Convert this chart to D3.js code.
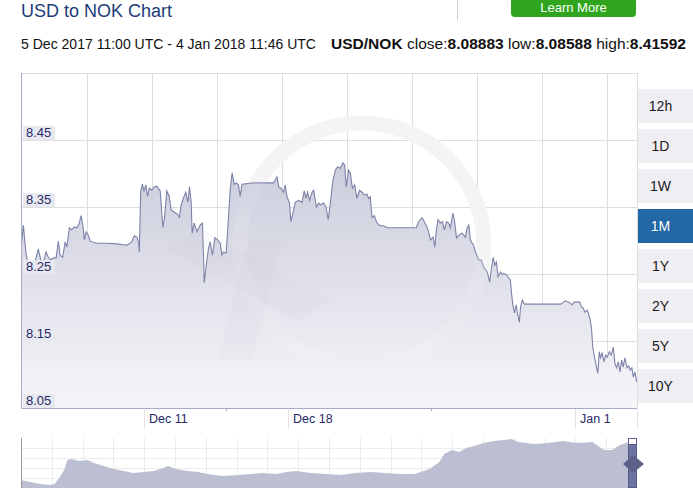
<!DOCTYPE html>
<html><head><meta charset="utf-8">
<script src="https://cdn.jsdelivr.net/npm/d3@7"></script>
<style>
html,body{margin:0;padding:0;background:#fff;}
svg{display:block;font-family:"Liberation Sans",Arial,sans-serif;}
</style></head>
<body>
<svg id="c" width="693" height="495"></svg>
<script>
// ---------- DATA ----------
const startDate = Date.UTC(2017, 11, 5, 0, 0); // Dec 5 2017 00:00 UTC
const spanDays = 30.04;
// day offsets from startDate
const days = [0.00,0.09,0.22,0.28,0.42,0.66,0.82,0.94,1.07,1.20,1.31,1.43,1.55,1.69,1.80,1.88,2.01,2.13,2.21,2.34,2.45,2.56,2.70,2.81,2.91,2.99,3.07,3.15,3.26,3.35,3.67,4.16,4.65,5.14,5.38,5.50,5.63,5.71,5.75,5.82,5.90,5.98,6.07,6.15,6.24,6.36,6.47,6.60,6.68,6.77,6.90,6.98,7.09,7.21,7.30,7.42,7.58,7.71,7.79,7.90,8.02,8.12,8.20,8.28,8.33,8.43,8.56,8.72,8.83,8.88,8.92,9.00,9.13,9.21,9.32,9.44,9.57,9.70,9.78,9.86,9.99,10.10,10.19,10.28,10.38,10.48,10.59,10.67,10.76,11.32,11.98,12.30,12.38,12.47,12.55,12.66,12.79,12.87,12.96,13.08,13.15,13.25,13.36,13.52,13.69,13.80,13.88,13.96,14.06,14.18,14.26,14.39,14.50,14.58,14.74,14.86,14.97,15.10,15.20,15.32,15.43,15.56,15.69,15.77,15.85,15.96,16.05,16.15,16.26,16.37,16.50,16.62,16.73,16.86,16.94,17.02,17.11,17.22,17.35,17.51,17.67,17.84,18.49,19.27,19.38,19.55,19.66,19.79,19.87,19.96,20.09,20.17,20.25,20.33,20.44,20.54,20.64,20.74,20.85,20.93,21.02,21.06,21.14,21.23,21.34,21.50,21.67,21.75,21.83,21.91,21.99,22.07,22.15,22.32,22.43,22.56,22.73,22.85,22.94,23.02,23.10,23.18,23.26,23.38,23.46,23.54,23.67,23.78,23.86,23.91,23.98,24.06,24.14,24.22,24.30,24.35,24.44,24.55,24.76,25.33,25.98,26.31,26.55,26.71,26.88,26.96,27.12,27.25,27.33,27.42,27.49,27.61,27.74,27.82,27.88,27.97,28.07,28.13,28.20,28.26,28.34,28.42,28.51,28.59,28.69,28.78,28.88,28.96,29.04,29.13,29.21,29.29,29.37,29.45,29.55,29.63,29.71,29.79,29.86,29.94,30.02,30.04];
const values = [8.296,8.323,8.281,8.271,8.268,8.268,8.287,8.271,8.268,8.283,8.275,8.271,8.274,8.274,8.299,8.278,8.275,8.298,8.290,8.319,8.316,8.320,8.319,8.325,8.337,8.323,8.301,8.313,8.308,8.299,8.296,8.296,8.295,8.293,8.298,8.307,8.305,8.298,8.283,8.375,8.384,8.374,8.383,8.366,8.378,8.375,8.380,8.381,8.378,8.374,8.319,8.334,8.374,8.366,8.346,8.343,8.340,8.335,8.353,8.363,8.372,8.357,8.380,8.357,8.311,8.326,8.313,8.323,8.326,8.278,8.237,8.259,8.289,8.298,8.278,8.304,8.301,8.296,8.278,8.283,8.281,8.334,8.378,8.401,8.384,8.386,8.383,8.366,8.384,8.386,8.386,8.386,8.390,8.395,8.380,8.378,8.372,8.383,8.365,8.356,8.328,8.341,8.357,8.360,8.357,8.374,8.363,8.372,8.360,8.372,8.375,8.350,8.356,8.353,8.356,8.350,8.331,8.363,8.390,8.405,8.410,8.408,8.416,8.413,8.380,8.405,8.401,8.378,8.383,8.363,8.375,8.372,8.368,8.369,8.363,8.365,8.334,8.337,8.326,8.322,8.322,8.319,8.319,8.319,8.328,8.334,8.328,8.320,8.313,8.301,8.305,8.290,8.316,8.331,8.326,8.328,8.316,8.328,8.326,8.319,8.335,8.341,8.328,8.304,8.308,8.311,8.305,8.319,8.323,8.301,8.296,8.293,8.283,8.271,8.271,8.260,8.253,8.238,8.259,8.275,8.263,8.268,8.246,8.253,8.249,8.251,8.249,8.244,8.241,8.223,8.204,8.192,8.204,8.189,8.178,8.199,8.211,8.205,8.205,8.205,8.205,8.205,8.210,8.208,8.204,8.208,8.208,8.208,8.201,8.199,8.193,8.196,8.184,8.169,8.141,8.125,8.110,8.102,8.134,8.125,8.132,8.119,8.129,8.126,8.134,8.129,8.141,8.117,8.110,8.119,8.104,8.122,8.111,8.125,8.110,8.113,8.107,8.110,8.096,8.104,8.090,8.089];

const yTicks = [8.05, 8.15, 8.25, 8.35, 8.45];
const yMax = 8.55;
const xTickDays = [6, 13, 27];
const xTickLabels = ["Dec 11", "Dec 18", "Jan 1"];
const xMinorDays = [10, 20];

// navigator (relative position %, relative level %)
const navT = [0,1.5,3.1,4.7,5.5,6.3,7.1,7.6,8.3,9.6,10.9,12.0,13.6,15.3,16.9,18.5,20.1,21.8,23.4,24.2,25.5,27.4,29.1,30.7,33.1,35.6,38.0,39.6,42.0,43.7,45.3,47.7,50.2,52.6,55.0,57.5,59.9,62.3,64.8,67.2,68.8,69.6,70.9,72.1,73.2,74.5,76.1,77.8,79.4,80.7,81.8,84.3,86.7,89.1,91.6,94.0,95.9,97.2,98.5,100];
const navV = [16,12,8,6,8,20,36,56,58,54,56,50,44,38,34,30,32,34,40,44,38,34,32,28,24,26,28,30,28,32,34,30,28,26,30,32,30,28,28,38,52,68,76,72,80,84,90,94,96,98,92,88,90,94,90,92,76,76,86,92];

const rangeButtons = ["12h","1D","1W","1M","1Y","2Y","5Y","10Y"];
const activeButton = "1M";

const header = "USD to NOK Chart";
const infoText = "5 Dec 2017 11:00 UTC - 4 Jan 2018 11:46 UTC";
const statParts = [
  {t:"USD/NOK", b:true},{t:" close:", b:false},{t:"8.08883", b:true},
  {t:" low:", b:false},{t:"8.08588", b:true},{t:" high:", b:false},{t:"8.41592", b:true}
];

// ---------- DRAW ----------
const svg = d3.select("#c");
const L = 21.5, R = 637, T = 73, B = 408;
const DAY = 86400000;
const x = d3.scaleUtc().domain([new Date(startDate), new Date(startDate + spanDays*DAY)]).range([L, R]);
const y = d3.scaleLinear().domain([8.05, yMax]).range([B, T]);
const data = days.map((d,i)=>({date:new Date(startDate + d*DAY), v:values[i]}));

// header
svg.append("text").attr("x",21).attr("y",17).attr("font-size",18).attr("fill","#1d3c78").text(header);
svg.append("line").attr("x1",457.5).attr("x2",457.5).attr("y1",0).attr("y2",20).attr("stroke","#d0d0d0");
svg.append("rect").attr("x",511).attr("y",-20).attr("width",125).attr("height",37).attr("rx",4).attr("fill","#2ea51c");
svg.append("text").attr("x",573.5).attr("y",12).attr("text-anchor","middle").attr("font-size",13).attr("fill","#fff").text("Learn More");

svg.append("text").attr("x",21).attr("y",49).attr("font-size",14).attr("fill","#111")
  .attr("textLength",295).attr("lengthAdjust","spacingAndGlyphs").text(infoText);
const stat = svg.append("text").attr("x",331).attr("y",49).attr("font-size",14).attr("fill","#111")
  .attr("textLength",355).attr("lengthAdjust","spacingAndGlyphs");
statParts.forEach(p=>stat.append("tspan").attr("font-weight",p.b?"bold":"normal").text(p.t));

// gradient
const defs = svg.append("defs");
const g = defs.append("linearGradient").attr("id","ag").attr("gradientUnits","userSpaceOnUse")
  .attr("x1",0).attr("x2",0).attr("y1",T+80).attr("y2",B);
g.append("stop").attr("offset",0).attr("stop-color","#c9cbdb");
g.append("stop").attr("offset",1).attr("stop-color","#f6f6f9");
defs.append("clipPath").attr("id","pc").append("rect").attr("x",L).attr("y",T).attr("width",R-L).attr("height",B-T);

// grid
const grid = svg.append("g");
const vGrid = d3.range(L+65, R, 65);
grid.selectAll(".vg").data(vGrid).join("line")
  .attr("x1",d=>Math.round(d)+0.5).attr("x2",d=>Math.round(d)+0.5).attr("y1",T).attr("y2",B)
  .attr("stroke","#dedede");
grid.selectAll(".hg").data(yTicks.concat([yMax])).join("line")
  .attr("x1",L).attr("x2",R).attr("y1",d=>Math.round(y(d))+0.5).attr("y2",d=>Math.round(y(d))+0.5)
  .attr("stroke","#dedede");
grid.append("line").attr("x1",R+0.5).attr("x2",R+0.5).attr("y1",T).attr("y2",B).attr("stroke","#dedede");

// watermark (faint)
const wm = svg.append("g").attr("clip-path","url(#pc)");
wm.append("circle").attr("cx",362).attr("cy",245).attr("r",122).attr("fill","none").attr("stroke","#f3f3f7").attr("stroke-width",15);

// area + line
const area = d3.area().x(d=>x(d.date)).y0(B).y1(d=>y(d.v));
const line = d3.line().x(d=>x(d.date)).y(d=>y(d.v));
const pg = svg.append("g").attr("clip-path","url(#pc)");
pg.append("path").datum(data).attr("d",area).attr("fill","url(#ag)");
const wm2 = svg.append("g").attr("clip-path","url(#pc)");
wm2.append("circle").attr("cx",362).attr("cy",245).attr("r",122).attr("fill","none").attr("stroke","#ffffff").attr("stroke-opacity",0.1).attr("stroke-width",15);
wm2.append("path").attr("d","M168,250 L200,228 L330,300 L298,322 Z").attr("fill","#b8bacb").attr("opacity",0.07);
wm2.append("path").attr("d","M218,360 L248,240 L282,240 L252,360 Z").attr("fill","#b8bacb").attr("opacity",0.07);
pg.append("path").datum(data).attr("d",line).attr("fill","none").attr("stroke","#7c82a8").attr("stroke-width",1.1);

// axes lines
svg.append("line").attr("x1",L).attr("x2",L).attr("y1",T).attr("y2",B).attr("stroke","#a8aacb").attr("stroke-width",1);
svg.append("line").attr("x1",L).attr("x2",R).attr("y1",B+0.5).attr("y2",B+0.5).attr("stroke","#a8aacb");

// y labels
const yl = svg.append("g");
yTicks.forEach(v=>{
  const yy = Math.round(y(v));
  yl.append("rect").attr("x",23).attr("y",yy-14).attr("width",32).attr("height",14).attr("fill","#e8e8f0");
  yl.append("text").attr("x",26).attr("y",yy-3).attr("font-size",13).attr("fill","#262a66").text(v.toFixed(2));
});

// x ticks
const xg = svg.append("g");
xTickDays.forEach((d,i)=>{
  const xx = Math.round(x(new Date(startDate + d*DAY)))+0.5;
  xg.append("line").attr("x1",xx).attr("x2",xx).attr("y1",B+1).attr("y2",B+20).attr("stroke","#e2e2e2");
  xg.append("text").attr("x",xx+4.5).attr("y",423).attr("font-size",12.5).attr("fill","#262a66").text(xTickLabels[i]);
});
xg.append("line").attr("x1",R+0.5).attr("x2",R+0.5).attr("y1",B+1).attr("y2",B+20).attr("stroke","#e2e2e2");
xMinorDays.forEach(d=>{
  const xx = Math.round(x(new Date(startDate + d*DAY)))+0.5;
  xg.append("line").attr("x1",xx).attr("x2",xx).attr("y1",B).attr("y2",B+3).attr("stroke","#a8aacb");
});

// range buttons
const bg = svg.append("g");
rangeButtons.forEach((b,i)=>{
  const by = 89 + i*40;
  const act = b===activeButton;
  bg.append("rect").attr("x",638).attr("y",by).attr("width",55).attr("height",34).attr("fill",act?"#2267a6":"#efeff3");
  bg.append("text").attr("x",660.5).attr("y",by+22).attr("text-anchor","middle").attr("font-size",14)
    .attr("fill",act?"#fff":"#1a1a1a").text(b);
});

// navigator
const NL = 21, NR = 629, NT = 438, NB = 488;
const nx = d3.scaleLinear().domain([0,100]).range([NL, NR]);
const ny = d3.scaleLinear().domain([0,100]).range([NB, NT]);
const ng = svg.append("g");
ng.selectAll(".nh").data(d3.range(NT+10, NB, 10)).join("line")
  .attr("x1",NL).attr("x2",637).attr("y1",d=>d+0.5).attr("y2",d=>d+0.5).attr("stroke","#ececec");
ng.selectAll(".nv").data(d3.range(NL+30.8, 637, 30.8)).join("line")
  .attr("x1",d=>Math.round(d)+0.5).attr("x2",d=>Math.round(d)+0.5).attr("y1",NT).attr("y2",NB).attr("stroke","#ececec");
const navData = navT.map((t,i)=>({t, v:navV[i]}));
ng.append("path").datum(navData)
  .attr("d", d3.area().x(d=>nx(d.t)).y0(NB).y1(d=>ny(d.v)))
  .attr("fill","#bcbfd2");
ng.append("line").attr("x1",NL+0.5).attr("x2",NL+0.5).attr("y1",NT).attr("y2",NB).attr("stroke","#9a9a9a");
// handle
ng.append("rect").attr("x",628.5).attr("y",438.5).attr("width",8).attr("height",49).attr("fill","#fff").attr("stroke","#5c6190");
ng.append("rect").attr("x",628.5).attr("y",444.5).attr("width",8).attr("height",43).attr("fill","#6d72a0").attr("stroke","#555a88");
ng.append("path").attr("d","M623,464 L633,455 L644,464 L633,473 Z").attr("fill","#5b6089");
</script>
</body></html>
